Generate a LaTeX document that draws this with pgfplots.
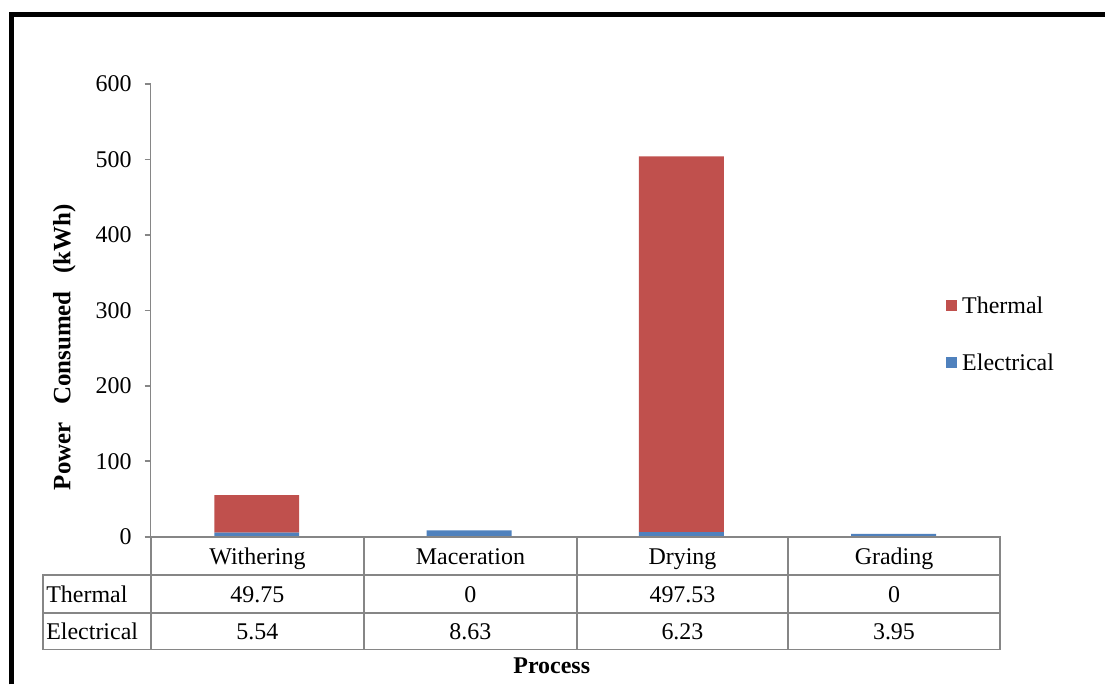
\documentclass[border=0pt]{standalone}
\usepackage{fontspec}
\setmainfont{Liberation Serif}
\usepackage{pgfplots}
\pgfplotsset{compat=1.18}
\definecolor{thermal}{HTML}{C0504D}
\definecolor{elec}{HTML}{4F81BD}
\definecolor{axgray}{HTML}{868686}
\begin{document}
\begin{tikzpicture}[font=\fontsize{12}{13}\selectfont]
\begin{scope}[x=0.5pt,y=-0.5pt]
\path (0,0) rectangle (1107,686);
\end{scope}
\begin{axis}[
 at={(75.5pt,-269pt)}, anchor=south west,
 scale only axis, width=425.5pt, height=227pt,
 ybar stacked, bar width=0.4,
 xmin=-0.5, xmax=3.5, ymin=0, ymax=600,
 ytick={0,100,...,600}, xtick=\empty,
 axis lines*=left, axis line style={axgray, line width=0.8pt},
 ytick style={axgray, line width=0.8pt}, tick align=outside, major tick length=3pt,
 yticklabel style={font=\fontsize{12}{13}\selectfont, xshift=-3pt},
 /pgf/number format/assume math mode=true,
 clip=false,
]
\addplot[fill=elec, draw=none] coordinates {(0,5.54) (1,8.63) (2,6.23) (3,3.95)};
\addplot[fill=thermal, draw=none] coordinates {(0,49.75) (1,0) (2,497.53) (3,0)};
\end{axis}
\begin{scope}[x=0.5pt,y=-0.5pt, every node/.style={text height=8.2pt, text depth=2.6pt}]
% frame
\draw[line width=2.5pt] (11.5,686) -- (11.5,14.5) -- (1107,14.5);
% table
\draw[axgray, line width=0.9pt] (151,538) -- (1002,538) -- (1002,651) -- (43,651) -- (43,576) -- (1002,576);
\draw[axgray, line width=0.9pt] (43,614) -- (1002,614);
\foreach \x in {151,365,578,790} \draw[axgray, line width=0.9pt] (\x,538) -- (\x,651);
\foreach \x/\t in {258/Withering,471.5/Maceration,684/Drying,896/Grading}
  \node at (\x,560) {\t};
\foreach \x/\t in {258/49.75,471.5/0,684/497.53,896/0}
  \node at (\x,598) {\t};
\foreach \x/\t in {258/5.54,471.5/8.63,684/6.23,896/3.95}
  \node at (\x,635.5) {\t};
\node[anchor=west, inner xsep=0pt] at (46,598) {Thermal};
\node[anchor=west, inner xsep=0pt] at (46,635.5) {Electrical};
\node[font=\fontsize{12}{13}\selectfont\bfseries] at (553,669) {Process};
\node[font=\fontsize{12.5}{14}\selectfont\bfseries, rotate=90] at (65,348) {Power\hspace{0.7em}Consumed\hspace{0.7em}(kWh)};
% legend
\fill[thermal] (948,301) rectangle (959,312);
\node[anchor=west, inner xsep=0pt] at (964,309) {Thermal};
\fill[elec] (948,358) rectangle (959,369);
\node[anchor=west, inner xsep=0pt] at (964,366) {Electrical};
\end{scope}
\end{tikzpicture}
\end{document}
